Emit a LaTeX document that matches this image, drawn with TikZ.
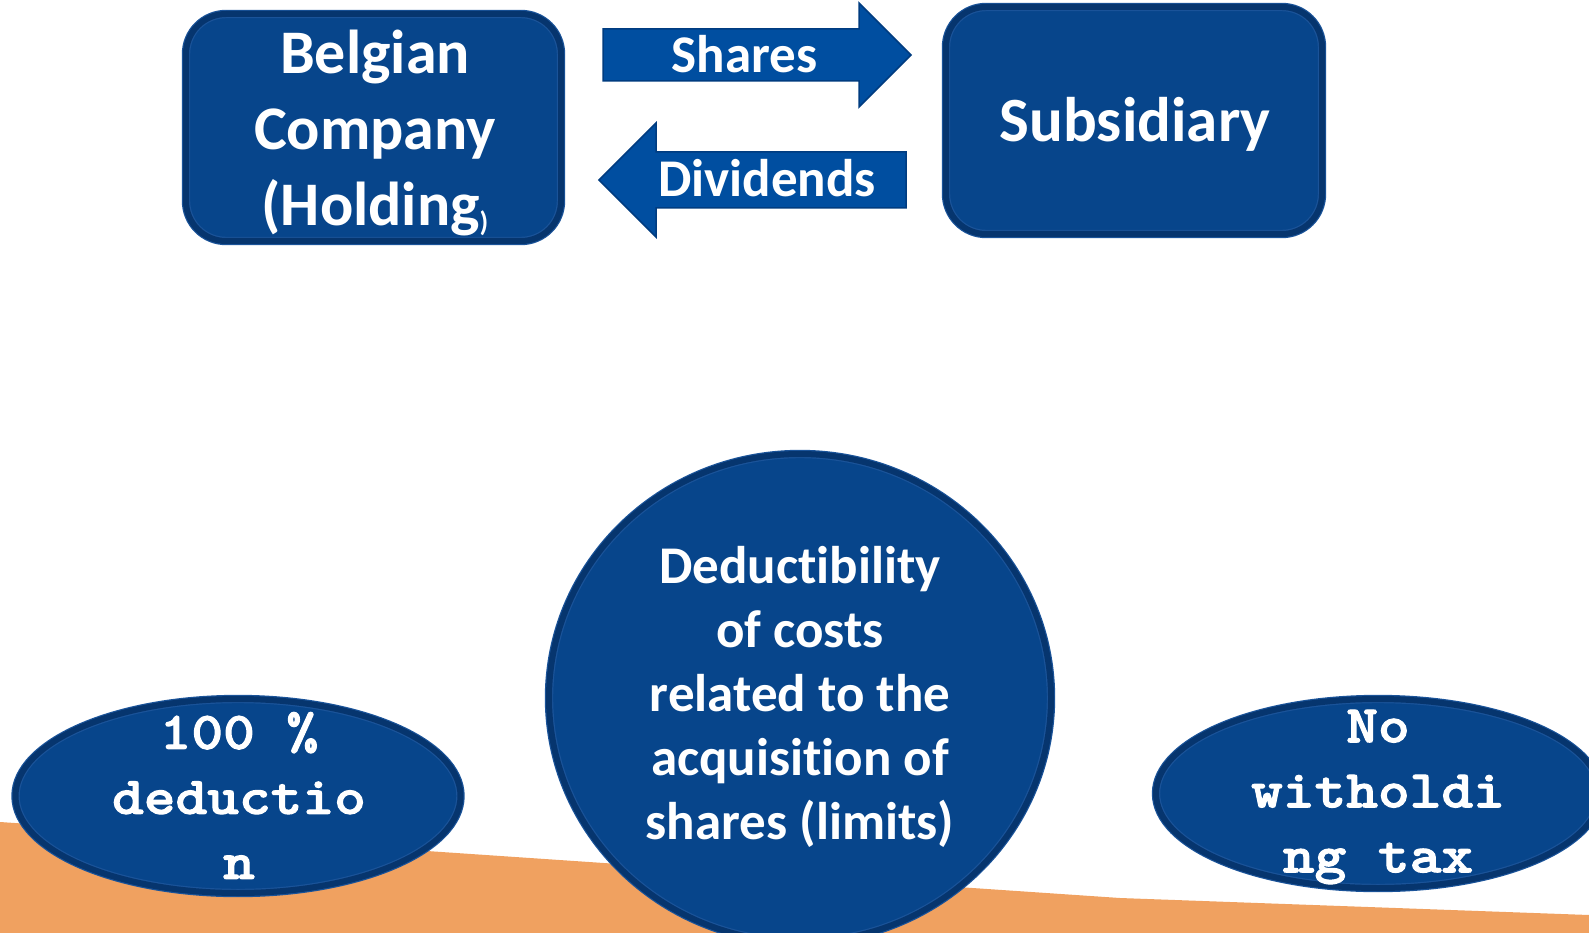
\documentclass[tikz,border=0pt]{standalone}
\usepackage{fontspec}
\setmainfont{Carlito}[Ligatures=NoCommon]
\newfontfamily\monofont{lmmonolt10-bold}[Extension=.otf, FakeStretch=1.14, FakeBold=2]
\usetikzlibrary{shapes.geometric}

\definecolor{panelblue}{HTML}{07458B}
\definecolor{panelrim}{HTML}{06356E}
\definecolor{paneledge}{HTML}{1A5399}
\definecolor{arrowblue}{HTML}{004EA0}
\definecolor{arrowedge}{HTML}{003C80}
\definecolor{ground}{HTML}{F0A160}

\tikzset{
  panel/.style={fill=panelblue, draw=paneledge, double=panelrim,
    double distance=6pt, line width=1.2pt, inner sep=0pt},
  box/.style={panel, rectangle, rounded corners=40pt},
  oval/.style={panel, ellipse},
  blockarrow/.style={fill=arrowblue, draw=arrowedge, line width=1.5pt, line join=miter},
  caption/.style={text=white, inner sep=0pt, align=center},
  bigtext/.style={caption, font=\bfseries\fontsize{62}{76}\selectfont},
  subtext/.style={caption, font=\bfseries\fontsize{63}{76}\selectfont},
  midtext/.style={caption, font=\bfseries\fontsize{53}{64}\selectfont},
  monotext/.style={caption, font=\monofont\fontsize{53}{65}\selectfont},
}

\begin{document}
\begin{tikzpicture}[x=1pt,y=-1pt]
\useasboundingbox (0,0) rectangle (1589,933);
\clip (0,0) rectangle (1589,933);

% orange ground strip along the bottom
\fill[ground] (0,822) -- (530,858) -- (1120,898) -- (1589,915)
  -- (1589,933) -- (0,933) -- cycle;

% the two companies
\node[box, minimum width=375pt, minimum height=227pt] (holding) at (373.5,127.5) {};
\node[bigtext] (holdingtext) at (375,133)
  {Belgian\\Company\\(Holding\raisebox{-6pt}{\fontsize{28}{30}\selectfont)}};

\node[box, minimum width=376pt, minimum height=227pt] (subsidiary) at (1134,120.5) {};
\node[subtext, anchor=base] (subsidiarytext) at (1135,142) {Subsidiary};

% flows between them
\path[blockarrow] (603,29) -- (859,29) -- (859,3) -- (911,55) -- (859,107)
  -- (859,81) -- (603,81) -- cycle;
\node[midtext, anchor=base] (sharestext) at (744.5,73) {Shares};

\path[blockarrow] (906,152) -- (656,152) -- (656,123) -- (599,180) -- (656,237)
  -- (656,208) -- (906,208) -- cycle;
\node[midtext, anchor=base] (dividendstext) at (767,197) {Dividends};

% consequences
\node[oval, minimum width=502pt, minimum height=488pt] (costs) at (800,698) {};
\node[midtext] (coststext) at (800,697)
  {Deductibility\\of costs\\related to the\\acquisition of\\shares (limits)};

\node[oval, minimum width=445pt, minimum height=194pt] (deduction) at (238,796) {};
\node[monotext] (deductiontext) at (239,795.5) {100 \%\\deductio\\n};

\node[oval, minimum width=444pt, minimum height=189pt] (withholding) at (1378,793.5) {};
\node[monotext] (withholdingtext) at (1378,797) {No\\witholdi\\ng tax};
\end{tikzpicture}
\end{document}
